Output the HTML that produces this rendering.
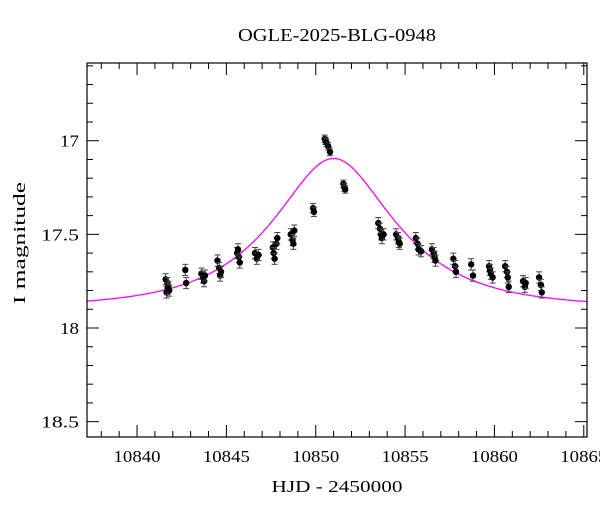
<!DOCTYPE html>
<html><head><meta charset="utf-8"><style>
body{margin:0;background:#fff;}
svg text{font-family:"Liberation Serif",serif;fill:#000;}
</style></head><body>
<svg id="chart" width="600" height="512" xmlns="http://www.w3.org/2000/svg">
<text x="337" y="41" font-size="18" text-anchor="middle" textLength="198" lengthAdjust="spacingAndGlyphs">OGLE-2025-BLG-0948</text>
<text x="337" y="492" font-size="17" text-anchor="middle" textLength="131" lengthAdjust="spacingAndGlyphs">HJD - 2450000</text>
<text transform="translate(25,243) rotate(-90)" font-size="17" text-anchor="middle" textLength="122" lengthAdjust="spacingAndGlyphs">I magnitude</text>
<g id="marks"></g>
<g id="axes"></g>
</svg>
<script>
const xTicks=[10840,10845,10850,10855,10860,10865];
const yTicks=[17,17.5,18,18.5];
const obsDays=[10841.6,10841.7,10841.75,10841.8,10841.65,10841.72,10842.7,10842.75,10843.6,10843.7,10843.75,10843.8,10844.5,10844.6,10844.65,10844.7,10845.6,10845.7,10845.75,10845.65,10846.6,10846.7,10846.8,10847.6,10847.65,10847.7,10847.8,10847.85,10848.6,10848.7,10848.75,10848.8,10849.85,10849.9,10850.5,10850.55,10850.6,10850.7,10850.8,10851.55,10851.6,10851.65,10853.5,10853.6,10853.65,10853.7,10853.8,10854.5,10854.6,10854.65,10854.7,10855.6,10855.7,10855.75,10855.9,10856.5,10856.6,10856.65,10856.7,10857.7,10857.8,10857.85,10858.7,10858.8,10859.7,10859.75,10859.8,10859.9,10860.6,10860.7,10860.75,10860.8,10861.6,10861.7,10861.75,10862.5,10862.6,10862.65];
const obsMags=[17.74,17.76,17.78,17.8,17.81,17.79,17.69,17.76,17.71,17.73,17.75,17.72,17.64,17.68,17.72,17.7,17.6,17.62,17.65,17.58,17.6,17.63,17.61,17.57,17.6,17.63,17.55,17.52,17.5,17.53,17.55,17.48,17.36,17.38,16.99,17.0,17.01,17.03,17.06,17.23,17.25,17.26,17.44,17.47,17.5,17.52,17.5,17.5,17.52,17.54,17.55,17.52,17.55,17.58,17.59,17.58,17.6,17.62,17.64,17.63,17.67,17.7,17.66,17.72,17.67,17.69,17.71,17.73,17.67,17.7,17.73,17.78,17.75,17.78,17.76,17.73,17.77,17.81];
const obsErr=[0.03,0.03,0.03,0.03,0.03,0.03,0.03,0.03,0.03,0.03,0.03,0.03,0.03,0.03,0.03,0.03,0.03,0.03,0.03,0.03,0.03,0.03,0.03,0.03,0.03,0.03,0.03,0.03,0.03,0.03,0.03,0.03,0.025,0.025,0.02,0.02,0.02,0.02,0.02,0.02,0.02,0.02,0.03,0.03,0.03,0.03,0.03,0.03,0.03,0.03,0.03,0.03,0.03,0.03,0.03,0.03,0.03,0.03,0.03,0.03,0.03,0.03,0.03,0.03,0.03,0.03,0.03,0.03,0.03,0.03,0.03,0.03,0.03,0.03,0.03,0.03,0.03,0.03];
const modelT0=[10851.0];
const modelU0=[0.53];
const modelTE=[5.7];
const modelBase=[17.89];

const L=87,R=587,T=63,B=437;
const xMin=10837.2,xMax=10865.18,yMin=16.585,yMax=18.582;
const xs=d=>L+(d-xMin)/(xMax-xMin)*(R-L);
const ys=m=>T+(m-yMin)/(yMax-yMin)*(B-T);
const NS='http://www.w3.org/2000/svg';
const marks=document.getElementById('marks'),axes=document.getElementById('axes');
function mk(tag,attrs,parent){const e=document.createElementNS(NS,tag);for(const k in attrs)e.setAttribute(k,attrs[k]);parent.appendChild(e);return e;}

let pts=[];
for(let i=0;i<=500;i++){const t=xMin+(xMax-xMin)*i/500;const u=Math.sqrt(modelU0[0]**2+((t-modelT0[0])/modelTE[0])**2);const A=(u*u+2)/(u*Math.sqrt(u*u+4));const m=modelBase[0]-2.5*Math.log10(A);pts.push(xs(t).toFixed(2)+','+ys(m).toFixed(2));}
const curve=mk('polyline',{points:pts.join(' '),fill:'none',stroke:'#ff00ff','stroke-width':1.3},marks);



obsDays.forEach((d,i)=>{
  const x=xs(d),y=ys(obsMags[i]),y1=ys(obsMags[i]-obsErr[i]),y2=ys(obsMags[i]+obsErr[i]);
  const g=mk('g',{},marks);
  
  
  mk('line',{x1:x,x2:x,y1:y1,y2:y2,stroke:'#444','stroke-width':1},g);
  mk('line',{x1:x-3,x2:x+3,y1:y1,y2:y1,stroke:'#444','stroke-width':1},g);
  mk('line',{x1:x-3,x2:x+3,y1:y2,y2:y2,stroke:'#444','stroke-width':1},g);
  mk('circle',{cx:x,cy:y,r:3.2,fill:'#000'},g);
});

const fr=mk('rect',{x:L,y:T,width:R-L,height:B-T,fill:'none',stroke:'#000','stroke-width':1.2},axes);


for(let d=Math.ceil(xMin);d<=xMax;d++){const x=xs(d);const major=d%5===0;const len=major?12:6;
  mk('line',{x1:x,x2:x,y1:B,y2:B-len,stroke:'#000','stroke-width':1},axes);
  mk('line',{x1:x,x2:x,y1:T,y2:T+len,stroke:'#000','stroke-width':1},axes);}
xTicks.forEach(v=>{const t=mk('text',{x:xs(v),y:B+25,'font-size':17,'text-anchor':'middle',textLength:47,lengthAdjust:'spacingAndGlyphs'},axes);t.textContent=v;
  
  });
for(let k=Math.ceil(yMin*10);k<=yMax*10;k++){const y=ys(k/10);const major=k%5===0;const len=major?12:6;
  mk('line',{x1:L,x2:L+len,y1:y,y2:y,stroke:'#000','stroke-width':1},axes);
  mk('line',{x1:R,x2:R-len,y1:y,y2:y,stroke:'#000','stroke-width':1},axes);}
yTicks.forEach(v=>{const s=String(v);const t=mk('text',{x:L-8,y:ys(v)+6,'font-size':17,'text-anchor':'end',textLength:s.length*9.5,lengthAdjust:'spacingAndGlyphs'},axes);t.textContent=s;
  
  });
</script>
</body></html>
